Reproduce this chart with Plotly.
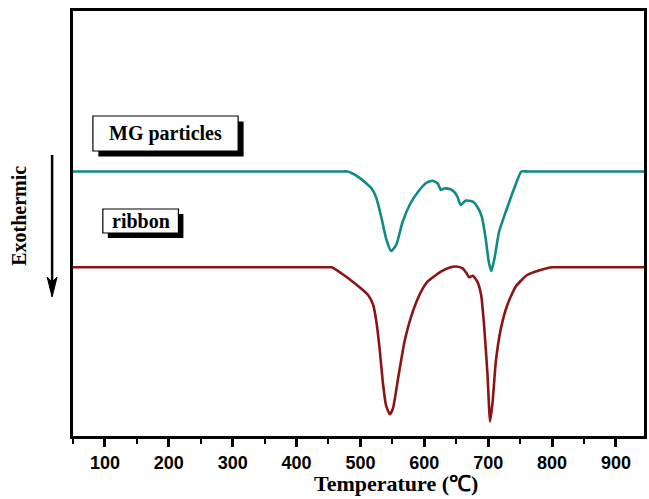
import plotly.graph_objects as go

# ---------------- data ----------------
temp_mg = [50, 300, 470, 480, 496, 509, 517, 525, 533, 540, 548, 556, 566, 577, 590, 603, 613,
           621, 626, 631, 640, 647, 652, 657, 665, 676, 683, 690, 696, 701, 705, 710,
           717, 728, 741, 752, 762, 944]
heat_mg = [264.5, 264.5, 264.5, 264.5, 259.3, 252.7, 248, 238, 218, 198, 185, 191, 214, 231, 244, 253, 255.3,
           252.5, 246, 247.5, 247, 244, 239, 231, 235.5, 234.3, 229.3, 219.3, 198, 174, 165, 178,
           204, 225, 248, 264.5, 264.5, 264.5]

temp_rb = [50, 300, 445, 455, 470, 491, 512, 520, 525, 530, 535, 540, 546, 551, 559, 569, 582, 595,
           605, 626, 640, 650, 660, 666, 670, 676, 683, 689, 694, 699, 703, 707, 712, 720,
           730, 743, 761, 782, 800, 810, 944]
heat_rb = [168.7, 168.7, 168.7, 168.7, 162.7, 152.7, 141, 131, 114.3, 87.7, 54.3, 31, 21.7, 27.7, 57.7, 94.3, 124.3, 144.3,
           154.3, 164.3, 168.5, 169.5, 167.7, 163, 158.7, 160.3, 154.3, 141, 107.7, 61, 14.3, 34.3, 74.3, 107.7,
           131, 149.3, 161, 166, 168.7, 168.7, 168.7]

x_ticks = [100, 200, 300, 400, 500, 600, 700, 800, 900]
label_mg = "MG particles"
label_rb = "ribbon"
x_title = "Temperature (℃)"
y_title = "Exothermic"

# ---------------- layout helpers ----------------
W, H = 649, 499
L, R, T, B = 73, 2, 11, 63
PW, PH = W - L - R, H - T - B


def px(x):
    return (x - L) / PW


def py(y):
    return (H - B - y) / PH


SERIF = "Liberation Serif, Times New Roman, serif"
SANS = "Liberation Sans, Arial, sans-serif"

fig = go.Figure()
fig.add_trace(go.Scatter(x=temp_mg, y=heat_mg, mode="lines",
                         line=dict(color="#0f8a86", width=2.6, shape="spline", smoothing=0.5),
                         showlegend=False, hoverinfo="skip"))
fig.add_trace(go.Scatter(x=temp_rb, y=heat_rb, mode="lines",
                         line=dict(color="#8c1414", width=2.6, shape="spline", smoothing=0.5),
                         showlegend=False, hoverinfo="skip"))

shapes = []
annotations = []


def label_box(x0, y0, x1, y1, off, text):
    shapes.append(dict(type="rect", xref="paper", yref="paper",
                       x0=px(x0 + off), x1=px(x1 + off), y0=py(y1 + off), y1=py(y0 + off),
                       fillcolor="black", line=dict(width=0)))
    shapes.append(dict(type="rect", xref="paper", yref="paper",
                       x0=px(x0), x1=px(x1), y0=py(y1), y1=py(y0),
                       fillcolor="white", line=dict(color="black", width=1.2)))
    annotations.append(dict(xref="paper", yref="paper", x=px((x0 + x1) / 2), y=py((y0 + y1) / 2),
                            text=f"<b>{text}</b>", showarrow=False, xanchor="center", yanchor="middle",
                            font=dict(family=SERIF, size=20, color="black")))


label_box(93, 116, 239, 151, 5.5, label_mg)
label_box(103, 209, 179, 233, 5, label_rb)

# Exothermic arrow
shapes.append(dict(type="line", xref="paper", yref="paper",
                   x0=px(52), x1=px(52), y0=py(155), y1=py(284), line=dict(color="black", width=2.5)))
shapes.append(dict(type="path", xref="paper", yref="paper",
                   path=f"M {px(52)},{py(297)} L {px(47)},{py(277)} L {px(52)},{py(282)} L {px(57)},{py(277)} Z",
                   fillcolor="black", line=dict(color="black", width=1)))

annotations.append(dict(xref="paper", yref="paper", x=px(18.5), y=py(216), text=f"<b>{y_title}</b>",
                        showarrow=False, textangle=-90, xanchor="center", yanchor="middle",
                        font=dict(family=SERIF, size=20, color="black")))
annotations.append(dict(xref="paper", yref="paper", x=px(398), y=py(483), text=f"<b>{x_title}</b>",
                        showarrow=False, xanchor="center", yanchor="middle",
                        font=dict(family=SERIF, size=22, color="black")))

fig.update_layout(
    width=W, height=H,
    margin=dict(l=L, r=R, t=T, b=B, pad=0),
    paper_bgcolor="white", plot_bgcolor="white",
    shapes=shapes, annotations=annotations,
    xaxis=dict(range=[50, 944], tickvals=x_ticks, ticks="outside", ticklen=8, tickwidth=2.5,
               tickcolor="black", showline=True, linecolor="black", linewidth=3, mirror=True,
               showgrid=False, zeroline=False,
               tickfont=dict(family=SANS, size=18, color="black", weight="bold"),
               minor=dict(dtick=50, tick0=0, ticks="outside", ticklen=5, tickwidth=2, tickcolor="black")),
    yaxis=dict(range=[0, 425], showticklabels=False, ticks="", showline=True, linecolor="black",
               linewidth=3, mirror=True, showgrid=False, zeroline=False),
)

fig.write_html("out.html")
